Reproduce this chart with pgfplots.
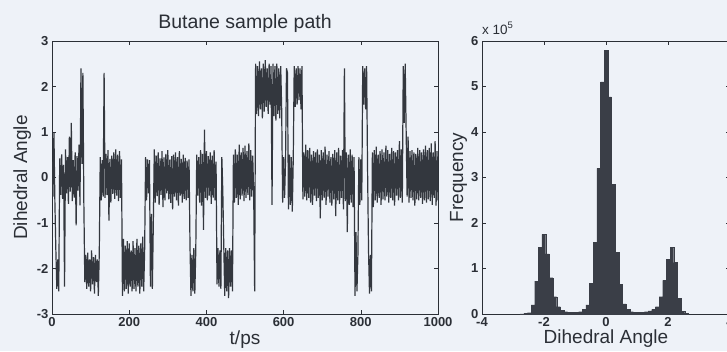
\documentclass[border=0pt]{standalone}
\usepackage{pgfplots}
\pgfplotsset{compat=1.18}
\usepackage{fontspec}
\setmainfont{Liberation Sans}
\definecolor{bg}{HTML}{EEF2F8}
\definecolor{ink}{HTML}{2B2F36}
\definecolor{line}{HTML}{33373E}
\definecolor{barc}{HTML}{3A3E47}
\pgfplotsset{
  common/.style={
    scale only axis,
    anchor=south west,
    height=273pt,
    tick align=inside,
    major tick length=4pt,
    axis line style={ink, line width=0.8pt},
    every tick/.style={ink, line width=0.6pt},
    ticklabel style={font=\fontsize{13}{13}\selectfont\bfseries, text=ink},
    /pgf/number format/assume math mode=true,
    /pgf/number format/set thousands separator={},
    scaled ticks=false,
    label style={font=\fontsize{19}{19}\selectfont, text=ink},
    xlabel style={at={(axis description cs:0.5,0)}, anchor=base, yshift=-30pt},
  }
}
\begin{document}
\begin{tikzpicture}[x=1pt,y=1pt]
\useasboundingbox (0,0) rectangle (727,351);
\clip (0,0) rectangle (727,351);
\fill[bg] (0,0) rectangle (727,351);
\begin{axis}[common,
  at={(52pt,37pt)}, width=386pt,
  xmin=0, xmax=1000, ymin=-3, ymax=3,
  xtick={0,200,...,1000}, ytick={-3,-2,...,3},
  xlabel={t/ps}, ylabel={Dihedral Angle},
  ylabel style={at={(axis description cs:0,0.5)}, anchor=base, yshift=25pt},
  title={Butane sample path},
  title style={font=\fontsize{19.5}{20}\selectfont, text=ink, at={(axis description cs:0.5,1)}, anchor=base, yshift=7pt},
]
\addplot[line, line width=1.2pt, line join=bevel] table[header=false, row sep=\\, x expr=\coordindex*2.5, y index=0] {
0.35\\ -0.42\\ 0.98\\ -0.55\\ -1.6\\ -2.45\\ -1.8\\ -2.5\\ 0.42\\ -0.38\\
0.51\\ -0.47\\ 0.28\\ -2.4\\ 0.62\\ -0.35\\ 0.45\\ -0.58\\ 0.9\\ -0.31\\
1.2\\ -0.52\\ 0.38\\ -0.44\\ 0.55\\ -1.05\\ 0.47\\ -0.29\\ 0.72\\ -0.61\\
2.4\\ 0.3\\ 2.3\\ -0.55\\ -2.3\\ -1.7\\ -2.45\\ -1.65\\ -2.4\\ -1.8\\
-2.5\\ -1.6\\ -2.35\\ -1.75\\ -2.55\\ -1.7\\ -2.3\\ -1.8\\ -2.6\\ -1.65\\
0.45\\ -0.5\\ 0.38\\ -0.42\\ 2.3\\ -0.45\\ 0.52\\ -0.38\\ 0.6\\ -0.95\\
0.41\\ -0.55\\ 0.48\\ -0.36\\ 0.55\\ -0.47\\ 0.62\\ -0.4\\ 0.5\\ -0.52\\
0.58\\ -0.45\\ 0.4\\ -2.6\\ -1.35\\ -2.5\\ -1.5\\ -2.45\\ -1.4\\ -2.55\\
-1.45\\ -2.4\\ -1.6\\ -2.5\\ -1.4\\ -2.45\\ -1.55\\ -2.5\\ -1.35\\ -2.4\\
-1.5\\ -2.55\\ -1.45\\ -2.4\\ -1.3\\ -2.5\\ -1.6\\ 0.45\\ -0.5\\ 0.4\\
-0.35\\ 0.38\\ -2.4\\ -0.8\\ -2.45\\ -1.0\\ 0.62\\ -0.55\\ 0.48\\ -0.41\\
0.55\\ -0.6\\ 0.42\\ -0.38\\ 0.58\\ -0.65\\ 0.44\\ -0.5\\ 0.52\\ -0.35\\
0.6\\ -0.48\\ 0.39\\ -0.56\\ 0.47\\ -0.7\\ 0.5\\ -0.42\\ 0.55\\ -0.5\\
0.45\\ -0.62\\ 0.58\\ -0.4\\ 0.41\\ -0.55\\ 0.5\\ -0.47\\ 0.43\\ -0.5\\
0.37\\ -0.45\\ 0.4\\ -1.5\\ -2.6\\ -1.7\\ -2.5\\ -1.55\\ -2.55\\ -1.6\\
0.5\\ -0.4\\ 0.45\\ -0.55\\ 0.6\\ -0.62\\ 0.52\\ -1.15\\ 1.05\\ -0.45\\
0.58\\ -0.5\\ 0.47\\ -0.4\\ 0.55\\ -0.58\\ 0.48\\ -0.44\\ 0.6\\ -0.5\\
0.35\\ -2.35\\ -1.55\\ -2.4\\ -1.6\\ -2.45\\ 0.45\\ -0.3\\ -1.5\\ -2.6\\
-1.55\\ -2.5\\ -1.6\\ -2.65\\ -1.55\\ -2.4\\ -1.6\\ -2.5\\ 0.5\\ -0.55\\
0.62\\ -0.45\\ 0.5\\ -0.6\\ 0.72\\ -0.48\\ 0.55\\ -0.4\\ 0.65\\ -0.52\\
0.7\\ -0.45\\ 0.58\\ -0.38\\ 0.75\\ -0.5\\ 0.6\\ -0.42\\ 0.48\\ -0.35\\
-2.5\\ 2.5\\ 1.4\\ 2.45\\ 1.35\\ 2.55\\ 1.5\\ 2.4\\ 1.3\\ 2.5\\
1.45\\ 2.58\\ 1.55\\ 2.4\\ 1.4\\ 2.5\\ 1.6\\ 2.45\\ -0.6\\ 2.5\\
1.35\\ 2.45\\ 1.25\\ 2.5\\ 1.4\\ 2.4\\ 1.3\\ 2.45\\ 1.5\\ -0.55\\
0.45\\ -0.45\\ 0.35\\ 2.4\\ 2.3\\ -0.7\\ 0.5\\ -0.6\\ 0.45\\ -0.75\\
0.4\\ 2.45\\ 1.55\\ 2.4\\ 1.6\\ 2.45\\ 1.7\\ 2.4\\ 1.5\\ 2.45\\
-0.48\\ 0.55\\ -0.42\\ 0.72\\ -0.5\\ 0.6\\ -0.45\\ 0.65\\ -0.55\\ 0.5\\
-0.6\\ 0.58\\ -0.4\\ 0.55\\ -0.52\\ 0.62\\ -0.45\\ 0.5\\ -0.9\\ 0.6\\
-0.5\\ 0.55\\ -0.45\\ 0.68\\ -0.6\\ 0.5\\ -0.42\\ 0.58\\ -0.55\\ 0.45\\
-0.62\\ 0.52\\ -0.48\\ 0.6\\ -0.85\\ 0.55\\ -0.5\\ 0.65\\ -0.58\\ 0.48\\
-0.45\\ 0.6\\ -0.7\\ 2.4\\ -0.52\\ 0.55\\ -1.2\\ 0.5\\ -0.6\\ 0.62\\
-0.55\\ 0.5\\ -0.65\\ 0.45\\ -2.6\\ -1.2\\ -2.5\\ -1.7\\ 0.45\\ -0.6\\
0.4\\ -0.5\\ 2.45\\ 1.6\\ 2.4\\ 1.5\\ 2.45\\ 0.2\\ -1.6\\ -2.55\\
-1.7\\ -2.5\\ 0.55\\ -0.65\\ 0.6\\ -0.5\\ 0.68\\ -0.55\\ 0.5\\ -0.45\\
0.58\\ -0.6\\ 0.62\\ -0.48\\ 0.55\\ -0.5\\ 0.7\\ -0.42\\ 0.6\\ -0.55\\
0.52\\ -0.45\\ 0.65\\ -0.5\\ 0.58\\ -0.62\\ 0.55\\ -0.4\\ 0.6\\ -0.5\\
0.8\\ -0.45\\ 0.62\\ -0.55\\ 2.45\\ 1.2\\ 2.5\\ 1.0\\ -0.42\\ 0.9\\
-0.55\\ 0.58\\ -0.45\\ 0.6\\ -0.5\\ 0.55\\ -0.62\\ 0.52\\ -0.48\\ 0.65\\
-0.5\\ 0.6\\ -0.45\\ 0.55\\ -0.58\\ 0.62\\ -0.5\\ 0.7\\ -0.55\\ 0.6\\
-0.48\\ 0.65\\ -0.52\\ 0.75\\ -0.6\\ 0.55\\ -0.45\\ 0.8\\ -0.62\\ 0.58\\
-0.5\\
};
\end{axis}
\begin{axis}[common, name=hist,
  at={(482pt,37pt)}, width=248pt,
  xmin=-4, xmax=4, ymin=0, ymax=6,
  xtick={-4,-2,0,2,4}, ytick={0,1,...,6},
  xlabel={Dihedral Angle}, ylabel={Frequency},
  ylabel style={at={(axis description cs:0,0.5)}, anchor=base, yshift=19pt},
  xlabel style={yshift=1pt},
]
\addplot[ybar, bar width=0.118, fill=barc, draw=barc, line width=0.2pt] table[row sep=\\] {
x y\\
-2.714 0.005\\ -2.596 0.01\\ -2.478 0.03\\ -2.36 0.2\\ -2.242 0.72\\
-2.124 1.47\\ -2.006 1.75\\ -1.888 1.32\\ -1.77 0.8\\ -1.652 0.38\\
-1.534 0.16\\ -1.416 0.08\\ -1.298 0.05\\ -1.18 0.04\\ -1.062 0.04\\
-0.944 0.04\\ -0.826 0.05\\ -0.708 0.1\\ -0.59 0.2\\ -0.472 0.68\\
-0.354 1.57\\ -0.236 3.2\\ -0.118 5.1\\ 0 5.8\\ 0.118 4.77\\
0.236 2.85\\ 0.354 1.36\\ 0.472 0.65\\ 0.59 0.22\\ 0.708 0.1\\
0.826 0.05\\ 0.944 0.04\\ 1.062 0.04\\ 1.18 0.04\\ 1.298 0.05\\
1.416 0.07\\ 1.534 0.1\\ 1.652 0.16\\ 1.77 0.38\\ 1.888 0.74\\
2.006 1.2\\ 2.124 1.47\\ 2.242 1.13\\ 2.36 0.35\\ 2.478 0.06\\
2.596 0.02\\
};
\end{axis}
\node[anchor=base west, font=\fontsize{13.5}{13.5}\selectfont, text=ink, inner sep=0pt] at ([yshift=7pt]hist.north west) {x 10\textsuperscript{5}};
\end{tikzpicture}
\end{document}
